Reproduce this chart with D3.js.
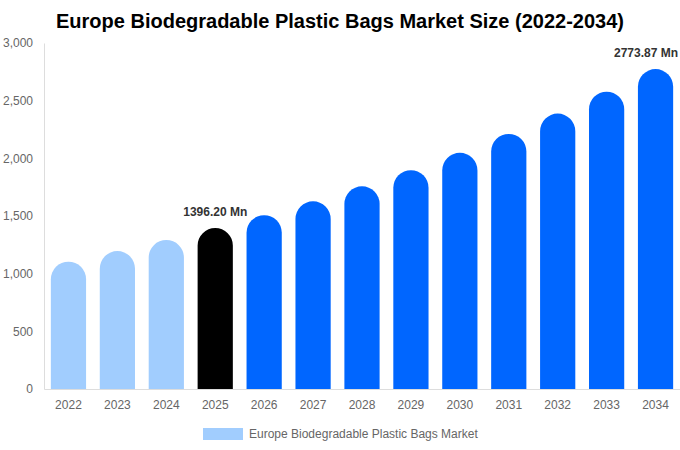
<!DOCTYPE html>
<html>
<head>
<meta charset="utf-8">
<script src="https://cdn.jsdelivr.net/npm/d3@7"></script>
<style>
  body { margin: 0; background: #fff; }
  svg { display: block; font-family: "Liberation Sans", Arial, sans-serif; }
</style>
</head>
<body>
<div id="chart"></div>
<script>
const years = ['2022', '2023', '2024', '2025', '2026', '2027', '2028', '2029', '2030', '2031', '2032', '2033', '2034'];
const values = [1104, 1196, 1292, 1396.2, 1507, 1627, 1757, 1897, 2048, 2212, 2388, 2578, 2773.87];
const yTicks = [0, 500, 1000, 1500, 2000, 2500, 3000];
const labelled = { '2025': '1396.20 Mn', '2034': '2773.87 Mn' };
const seriesName = 'Europe Biodegradable Plastic Bags Market';

const width = 680, height = 450;
const margin = { top: 43, right: 0, bottom: 61, left: 44 };

const svg = d3.select('#chart').append('svg')
  .attr('width', width)
  .attr('height', height);

const x = d3.scaleBand()
  .domain(years)
  .range([margin.left, width - margin.right])
  .paddingInner(0.28)
  .paddingOuter(0.14);

const y = d3.scaleLinear()
  .domain([0, 3000])
  .range([height - margin.bottom, margin.top]);

function barColor(yr) {
  if (+yr < 2025) return '#a1cdfe';
  if (+yr === 2025) return '#000000';
  return '#0066ff';
}

// title
svg.append('text')
  .attr('x', width / 2)
  .attr('y', 28)
  .attr('text-anchor', 'middle')
  .attr('font-size', 20)
  .attr('font-weight', 'bold')
  .attr('fill', '#000')
  .text('Europe Biodegradable Plastic Bags Market Size (2022-2034)');

// y axis
const yAxis = svg.append('g')
  .attr('transform', `translate(${margin.left},0)`)
  .call(d3.axisLeft(y).tickValues(yTicks).tickSize(0).tickPadding(11).tickFormat(d3.format(',')));
yAxis.select('.domain').attr('stroke', '#ddd');
yAxis.selectAll('text').attr('fill', '#666').attr('font-size', 12);

// bars with round tops
const bw = x.bandwidth();
const r = bw / 2;
svg.append('g').selectAll('path')
  .data(years)
  .join('path')
  .attr('fill', d => barColor(d))
  .attr('d', (d, i) => {
    const x0 = x(d), y0 = y(values[i]), yb = y(0);
    return `M${x0},${yb} L${x0},${y0 + r} A${r},${r} 0 0 1 ${x0 + bw},${y0 + r} L${x0 + bw},${yb} Z`;
  });

// x axis
const xAxis = svg.append('g')
  .attr('transform', `translate(0,${y(0)})`)
  .call(d3.axisBottom(x).tickSize(0).tickPadding(11));
xAxis.select('.domain').attr('stroke', '#ddd');
xAxis.selectAll('text').attr('fill', '#666').attr('font-size', 12);

// value labels (kept inside the right edge)
svg.append('g').selectAll('text')
  .data(years.filter(d => labelled[d]))
  .join('text')
  .attr('x', d => x(d) + bw / 2)
  .attr('y', d => y(values[years.indexOf(d)]) - 12)
  .attr('text-anchor', 'middle')
  .attr('font-size', 12)
  .attr('font-weight', 'bold')
  .attr('fill', '#333')
  .text(d => labelled[d])
  .each(function () {
    const half = this.getComputedTextLength() / 2;
    const cx = +this.getAttribute('x');
    if (cx + half > width - 2) this.setAttribute('x', width - 2 - half);
  });

// legend
const legend = svg.append('g').attr('transform', 'translate(203,428)');
legend.append('rect')
  .attr('width', 40)
  .attr('height', 12)
  .attr('fill', '#a1cdfe');
legend.append('text')
  .attr('x', 46)
  .attr('y', 10)
  .attr('font-size', 12)
  .attr('fill', '#666')
  .text(seriesName);
</script>
</body>
</html>
